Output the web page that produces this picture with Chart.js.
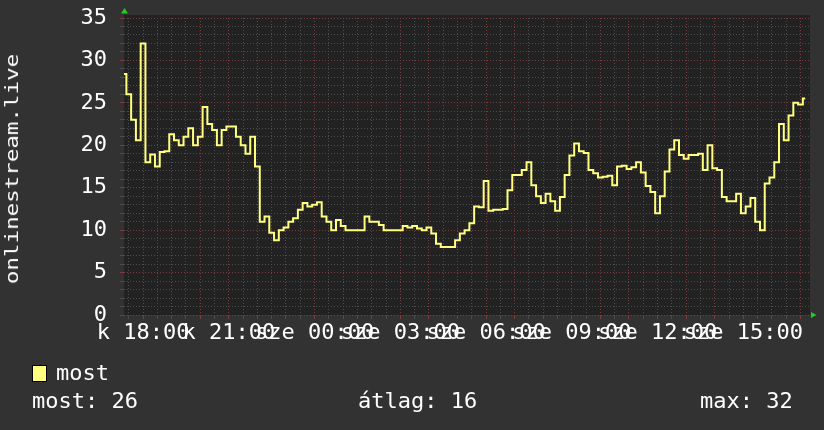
<!DOCTYPE html>
<html>
<head>
<meta charset="utf-8">
<script src="https://cdn.jsdelivr.net/npm/chart.js@4.4.1/dist/chart.umd.min.js"></script>
<style>
  html, body { margin: 0; padding: 0; background: #323232; }
  #wrap { position: relative; width: 824px; height: 430px; background: #323232; overflow: hidden;
          font-family: 'DejaVu Sans Mono', monospace; color: #fff; }
  #wrap canvas { position: absolute; left: 0; top: 0; }
  .txt { position: absolute; font-size: 22px; line-height: 22px; white-space: pre; }
  #ytitle { position: absolute; left: 12px; top: 169px; font-size: 18px; line-height: 18px; white-space: pre;
            transform: translate(-50%, -50%) rotate(-90deg) scaleX(1.25); }
  .swatch { position: absolute; left: 32px; top: 365px; width: 13px; height: 15px;
            background: #ffff80; border: 1px solid #000; }
</style>
</head>
<body>
<div id="wrap">
  <canvas id="chart" width="824" height="430"></canvas>
  <div id="ytitle">onlinestream.live</div>
  <div class="swatch"></div>
  <div class="txt" style="left:56px; top:362px">most</div>
  <div class="txt" id="statNow" style="left:32px; top:390px"></div>
  <div class="txt" id="statAvg" style="left:358px; top:390px"></div>
  <div class="txt" id="statMax" style="left:700px; top:390px"></div>
</div>
<script>
document.addEventListener('DOMContentLoaded', () => {

    // --- Data (10 minute samples, starting k 17:20) ---
    const startHour = 17 + 20 / 60;
    const stepMinutes = 10;
    const viewers = [
        28.4, 26, 23, 20.6, 32, 18, 18.9, 17.5, 19.2, 19.3,
        21.3, 20.6, 20, 21, 22, 20, 21, 24.5, 22.5, 21.8,
        20, 21.8, 22.2, 22.2, 21, 20, 19, 21, 17.5, 11,
        11.6, 9.7, 8.8, 10, 10.3, 11, 11.4, 12.4, 13.2, 12.8,
        13, 13.3, 11.6, 11, 10, 11.2, 10.5, 10, 10, 10,
        10, 11.6, 11, 11, 10.6, 10, 10, 10, 10, 10.5,
        10.3, 10.5, 10.2, 10, 10.3, 9.6, 8.4, 8, 8, 8,
        8.8, 9.6, 10, 10.8, 12.8, 12.7, 15.8, 12.3, 12.4, 12.4,
        12.5, 14.7, 16.5, 16.5, 17.1, 18, 15.3, 14, 13.2, 14.3,
        13.4, 12.3, 13.9, 16.5, 18.8, 20.2, 19.3, 19.1, 17.1, 16.7,
        16.2, 16.3, 16.4, 15.3, 17.5, 17.6, 17.2, 17.4, 18, 16.8,
        15.2, 14.5, 12, 14, 16.9, 19.5, 20.6, 18.85, 18.4, 18.85,
        18.85, 19, 17.1, 20, 17.3, 17.1, 13.9, 13.4, 13.4, 14.3,
        12, 12.8, 13.8, 11, 10, 15.5, 16.2, 18, 22.5, 20.6,
        23.5, 25, 24.8, 25.5, null
    ];
    const tickHours = [18, 21, 24, 27, 30, 33, 36, 39];
    const tickLabels = ['k 18:00', 'k 21:00', 'sze 00:00', 'sze 03:00',
                        'sze 06:00', 'sze 09:00', 'sze 12:00', 'sze 15:00'];
    const legendStats = ['most: 26', 'átlag: 16', 'max: 32'];

    document.getElementById('statNow').textContent = legendStats[0];
    document.getElementById('statAvg').textContent = legendStats[1];
    document.getElementById('statMax').textContent = legendStats[2];

    const points = viewers.map((v, i) => ({ x: startHour + i * stepMinutes / 60, y: v }));

    const majorGrid = '#7a3c3c';
    const minorGrid = '#4c4c4c';
    const tickFont = { family: "'DejaVu Sans Mono', monospace", size: 22 };

    // scales should not push the plot area around, the padding is fixed
    const noScalePadding = (scale) => {
        scale.paddingTop = 0;
        scale.paddingBottom = 0;
        scale.paddingLeft = 0;
        scale.paddingRight = 0;
    };

    // --- Plot background + green axis arrows ---
    const rrdDecor = {
        id: 'rrdDecor',
        beforeDraw(chart) {
            const { ctx, chartArea: a } = chart;
            ctx.save();
            ctx.fillStyle = '#222222';
            ctx.fillRect(a.left, a.top - 3, a.right - a.left, a.bottom - a.top + 3);
            ctx.restore();
        },
        afterDraw(chart) {
            const { ctx, chartArea: a } = chart;
            ctx.save();
            ctx.fillStyle = '#22cc22';
            ctx.beginPath();
            ctx.moveTo(a.left - 3, a.top - 4.5);
            ctx.lineTo(a.left + 4, a.top - 4.5);
            ctx.lineTo(a.left + 0.5, a.top - 10);
            ctx.closePath();
            ctx.fill();
            ctx.beginPath();
            ctx.moveTo(a.right + 1, a.bottom - 3);
            ctx.lineTo(a.right + 1, a.bottom + 3);
            ctx.lineTo(a.right + 6.5, a.bottom);
            ctx.closePath();
            ctx.fill();
            ctx.restore();
        }
    };

    new Chart(document.getElementById('chart'), {
        type: 'line',
        data: {
            datasets: [{
                label: 'most',
                data: points,
                borderColor: '#ffff80',
                borderWidth: 2,
                pointRadius: 0,
                stepped: 'middle',
                fill: false
            }]
        },
        options: {
            responsive: false,
            animation: false,
            devicePixelRatio: 1,
            layout: { padding: { top: 18, right: 14, left: 0, bottom: 0 } },
            plugins: {
                legend: { display: false },
                tooltip: { enabled: false }
            },
            scales: {
                x: {
                    type: 'linear',
                    min: startHour,
                    max: startHour + 24,
                    afterBuildTicks: (scale) => {
                        const ticks = [];
                        for (let h = 17.5; h <= 41.001; h += 0.5) ticks.push({ value: h });
                        scale.ticks = ticks;
                    },
                    afterFit: (scale) => { scale.height = 115; noScalePadding(scale); },
                    grid: {
                        color: (c) => (c.tick && c.tick.value % 1 === 0) ? majorGrid : minorGrid,
                        tickColor: (c) => (c.tick && c.tick.value % 1 === 0) ? majorGrid : minorGrid,
                        tickLength: 4,
                        lineWidth: 1
                    },
                    border: { display: false, dash: [1, 2] },
                    ticks: {
                        autoSkip: false,
                        maxRotation: 0,
                        minRotation: 0,
                        padding: 1,
                        color: '#ffffff',
                        font: tickFont,
                        callback: (v) => {
                            const k = tickHours.indexOf(v);
                            return k >= 0 ? tickLabels[k] : '';
                        }
                    }
                },
                y: {
                    min: 0,
                    max: 35,
                    afterBuildTicks: (scale) => {
                        const ticks = [];
                        for (let v = 0; v <= 35; v++) ticks.push({ value: v });
                        scale.ticks = ticks;
                    },
                    afterFit: (scale) => { scale.width = 124; noScalePadding(scale); },
                    grid: {
                        color: (c) => (c.tick && c.tick.value % 5 === 0) ? majorGrid : minorGrid,
                        tickColor: (c) => (c.tick && c.tick.value % 5 === 0) ? majorGrid : minorGrid,
                        tickLength: 4,
                        lineWidth: 1
                    },
                    border: { display: false, dash: [1, 2] },
                    ticks: {
                        autoSkip: false,
                        padding: 13,
                        color: '#ffffff',
                        font: tickFont,
                        callback: (v) => v % 5 === 0 ? String(v) : ''
                    }
                }
            }
        },
        plugins: [rrdDecor]
    });

});
</script>
</body>
</html>
